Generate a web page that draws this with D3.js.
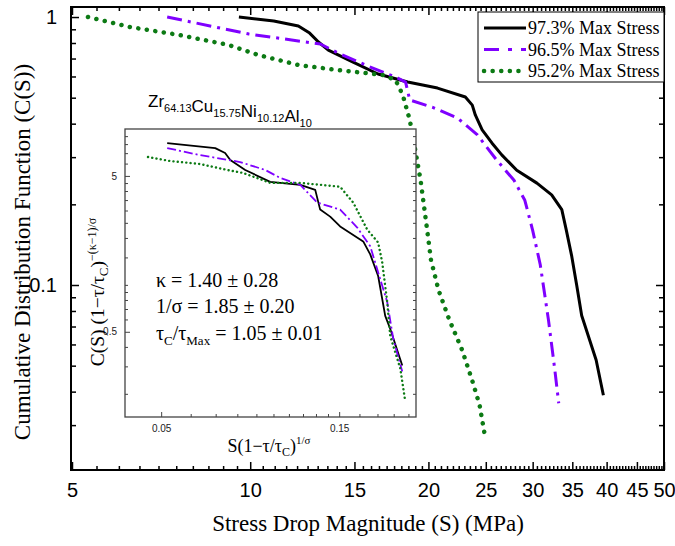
<!DOCTYPE html>
<html><head><meta charset="utf-8">
<script src="https://cdn.jsdelivr.net/npm/d3@7"></script>
<style>body{margin:0;background:#fff} svg{display:block}</style>
</head><body>
<svg id="c" width="675" height="546"></svg>
<script>
// ---------- data ----------
const seriesLabels = ["97.3% Max Stress", "96.5% Max Stress", "95.2% Max Stress"];
const seriesColors = ["#000000", "#7f00ff", "#0c7a14"];

// main plot: stress drop S (MPa) vs C(S)
const s973 = [9.57, 10.96, 12.06, 12.6, 13.04, 13.55, 14.92, 16.44, 18.45, 20.72, 23.09, 23.72, 24.0, 24.65, 25.6, 26.6, 28.2, 30.5, 32.3, 33.6, 34.2, 34.9, 35.6, 36.3, 38.4, 39.5];
const c973 = [1.0, 0.966, 0.926, 0.871, 0.807, 0.753, 0.679, 0.613, 0.572, 0.543, 0.503, 0.469, 0.431, 0.379, 0.339, 0.306, 0.268, 0.240, 0.217, 0.191, 0.160, 0.129, 0.100, 0.077, 0.0525, 0.0388];
const s965 = [7.24, 9.95, 13.14, 14.08, 15.81, 17.75, 18.3, 18.6, 20.3, 22.4, 24.2, 26.1, 27.9, 29.1, 30.0, 30.9, 31.9, 32.7, 33.2];
const c965 = [1.0, 0.864, 0.793, 0.734, 0.656, 0.592, 0.572, 0.490, 0.461, 0.420, 0.363, 0.292, 0.246, 0.207, 0.160, 0.119, 0.0741, 0.0482, 0.0362];
const s952 = [5.32, 6.26, 7.59, 9.21, 10.34, 12.07, 14.08, 16.75, 17.6, 18.1, 18.6, 19.0, 19.4, 19.8, 20.2, 20.8, 21.7, 22.8, 23.7, 24.4, 24.85];
const c952 = [1.0, 0.918, 0.857, 0.786, 0.721, 0.662, 0.634, 0.608, 0.582, 0.512, 0.413, 0.319, 0.246, 0.175, 0.124, 0.0958, 0.074, 0.0572, 0.0442, 0.0357, 0.0283];

// inset: scaled S vs scaled C
const is973 = [0.0519, 0.0698, 0.0742, 0.0766, 0.0840, 0.0980, 0.1180, 0.1294, 0.1334, 0.1419, 0.1509, 0.1740, 0.1817, 0.1908, 0.1993, 0.2055, 0.2214];
const ic973 = [8.11, 7.54, 7.01, 6.32, 5.46, 4.58, 4.38, 4.07, 3.04, 2.74, 2.37, 1.90, 1.57, 1.14, 0.632, 0.523, 0.304];
const is965 = [0.0519, 0.0636, 0.0814, 0.0950, 0.1042, 0.1180, 0.131, 0.1509, 0.1677, 0.1817, 0.1932, 0.2018, 0.2094, 0.2214];
const ic965 = [7.54, 6.80, 6.14, 5.46, 4.86, 4.38, 3.37, 3.04, 2.33, 1.77, 1.09, 0.776, 0.451, 0.278];
const is952 = [0.0461, 0.0528, 0.0636, 0.0752, 0.0830, 0.0980, 0.1180, 0.1509, 0.1636, 0.1784, 0.1908, 0.1956, 0.2018, 0.2055, 0.2187, 0.2255];
const ic952 = [6.61, 6.23, 5.96, 5.46, 5.22, 4.51, 4.51, 4.26, 3.37, 2.26, 1.87, 1.40, 0.776, 0.471, 0.291, 0.179];

// tick values
const xMajor = [5, 10, 15, 20, 25, 30, 35, 40, 45, 50];
const xMinor = d3.range(5.5, 50, 0.5).filter(v => v % 5 !== 0);
const yMajor = [0.1, 1];
const yMinor = [0.03, 0.04, 0.05, 0.06, 0.07, 0.08, 0.09, 0.2, 0.3, 0.4, 0.5, 0.6, 0.7, 0.8, 0.9];
const ixMajor = [0.05, 0.15];
const ixMinor = [0.06, 0.07, 0.08, 0.09, 0.1, 0.11, 0.12, 0.13, 0.14, 0.17, 0.19, 0.21, 0.23];
const iyMajor = [0.5, 5];
const iyMinor = [0.2, 0.3, 0.4, 0.6, 0.7, 0.8, 0.9, 1, 1.5, 2, 2.5, 3, 3.5, 4, 4.5, 6, 7, 8, 9];

// ---------- layout ----------
const svg = d3.select("#c");
const SERIF = "'Liberation Serif','Times New Roman',serif";
const SANS = "'Liberation Sans',Arial,sans-serif";
const L = 71, R = 664, T = 7, B = 470;
const x = d3.scaleLog().domain([5, 50]).range([L + 1, R]);
const y = d3.scaleLog().domain([0.0204, 1.09]).range([B, T]);

const mainSeries = [[s973, c973], [s965, c965], [s952, c952]];
const styles = [
  {w: 3, dash: null, cap: "butt"},
  {w: 3, dash: "15 6 3 6", cap: "butt"},
  {w: 4.5, dash: "0.1 8.5", cap: "round"}
];

const line = d3.line().x(d => x(d[0])).y(d => y(d[1]));
mainSeries.forEach((s, i) => {
  const pts = s[0].map((v, k) => [v, s[1][k]]);
  svg.append("path").attr("d", line(pts)).attr("fill", "none")
    .attr("stroke", seriesColors[i]).attr("stroke-width", styles[i].w)
    .attr("stroke-dasharray", styles[i].dash).attr("stroke-linecap", styles[i].cap)
    .attr("stroke-linejoin", "round");
});

// axes (ticks inward)
function styleAxis(g, fs) {
  g.select(".domain").remove();
  g.selectAll("line").attr("stroke", "#000").attr("stroke-width", 1.5);
  g.selectAll("text").attr("font-family", SANS).attr("font-size", fs).attr("fill", "#000");
}
svg.append("g").attr("transform", `translate(0,${B})`)
  .call(d3.axisBottom(x).tickValues(xMajor).tickSize(-8).tickPadding(13).tickFormat(d3.format("d")))
  .call(g => styleAxis(g, 20));
svg.append("g").attr("transform", `translate(0,${B})`)
  .call(d3.axisBottom(x).tickValues(xMinor).tickSize(-4).tickFormat(""))
  .call(g => styleAxis(g, 0));
svg.append("g").attr("transform", `translate(0,${T})`)
  .call(d3.axisTop(x).tickValues(xMajor).tickSize(-8).tickFormat(""))
  .call(g => styleAxis(g, 0));
svg.append("g").attr("transform", `translate(0,${T})`)
  .call(d3.axisTop(x).tickValues(xMinor).tickSize(-4).tickFormat(""))
  .call(g => styleAxis(g, 0));
svg.append("g").attr("transform", `translate(${L},0)`)
  .call(d3.axisLeft(y).tickValues(yMajor).tickSize(-8).tickPadding(14).tickFormat(d => d === 1 ? "1" : "0.1"))
  .call(g => styleAxis(g, 20));
svg.append("g").attr("transform", `translate(${L},0)`)
  .call(d3.axisLeft(y).tickValues(yMinor).tickSize(-5).tickFormat(""))
  .call(g => styleAxis(g, 0));
svg.append("g").attr("transform", `translate(${R},0)`)
  .call(d3.axisRight(y).tickValues(yMajor).tickSize(-8).tickFormat(""))
  .call(g => styleAxis(g, 0));
svg.append("g").attr("transform", `translate(${R},0)`)
  .call(d3.axisRight(y).tickValues(yMinor).tickSize(-5).tickFormat(""))
  .call(g => styleAxis(g, 0));
svg.append("rect").attr("x", L).attr("y", T).attr("width", R - L).attr("height", B - T)
  .attr("fill", "none").attr("stroke", "#000").attr("stroke-width", 2);

// axis titles
svg.append("text").attr("x", 368).attr("y", 531).attr("text-anchor", "middle")
  .attr("font-family", SERIF).attr("font-size", 23).text("Stress Drop Magnitude (S) (MPa)");
svg.append("text").attr("transform", "translate(30,252) rotate(-90)").attr("text-anchor", "middle")
  .attr("font-family", SERIF).attr("font-size", 23).text("Cumulative Distribution Function (C(S))");

// composition label
const comp = svg.append("text").attr("x", 148).attr("y", 107).attr("font-family", SANS).attr("font-size", 17);
[["Zr", "64.13"], ["Cu", "15.75"], ["Ni", "10.12"], ["Al", "10"]].forEach(([el, sub]) => {
  comp.append("tspan").text(el);
  comp.append("tspan").attr("font-size", 11).attr("dy", 5).text(sub);
  comp.append("tspan").attr("dy", -5).text("");
});

// legend
const lg = {x: 478, y: 12, w: 186, h: 70};
svg.append("rect").attr("x", lg.x).attr("y", lg.y).attr("width", lg.w).attr("height", lg.h)
  .attr("fill", "#fff").attr("stroke", "#000").attr("stroke-width", 1);
seriesLabels.forEach((lab, i) => {
  const yy = lg.y + 16 + i * 21.5;
  svg.append("line").attr("x1", lg.x + 6).attr("x2", lg.x + 48).attr("y1", yy).attr("y2", yy)
    .attr("stroke", seriesColors[i]).attr("stroke-width", styles[i].w)
    .attr("stroke-dasharray", i === 1 ? "15 9 4 9" : styles[i].dash).attr("stroke-linecap", styles[i].cap);
  svg.append("text").attr("x", lg.x + 50).attr("y", yy + 6).attr("font-family", SERIF)
    .attr("font-size", 18).text(lab);
});

// ---------- inset ----------
const IL = 125, IR = 416, IT = 129, IB = 417;
const ix = d3.scaleLog().domain([0.04, 0.241]).range([IL, IR]);
const iy = d3.scaleLog().domain([0.142, 10]).range([IB, IT]);
svg.append("rect").attr("x", IL).attr("y", IT).attr("width", IR - IL).attr("height", IB - IT)
  .attr("fill", "#fff").attr("stroke", "none");
const iline = d3.line().x(d => ix(d[0])).y(d => iy(d[1]));
const insetSeries = [[is973, ic973], [is965, ic965], [is952, ic952]];
const istyles = [
  {w: 1.8, dash: null, cap: "butt"},
  {w: 1.8, dash: "9 3 2 3", cap: "butt"},
  {w: 2.4, dash: "0.1 4.2", cap: "round"}
];
insetSeries.forEach((s, i) => {
  const pts = s[0].map((v, k) => [v, s[1][k]]);
  svg.append("path").attr("d", iline(pts)).attr("fill", "none")
    .attr("stroke", seriesColors[i]).attr("stroke-width", istyles[i].w)
    .attr("stroke-dasharray", istyles[i].dash).attr("stroke-linecap", istyles[i].cap)
    .attr("stroke-linejoin", "round");
});
function styleInset(g, fs) {
  g.select(".domain").remove();
  g.selectAll("line").attr("stroke", "#444").attr("stroke-width", 1);
  g.selectAll("text").attr("font-family", SANS).attr("font-size", fs).attr("fill", "#222");
}
svg.append("g").attr("transform", `translate(0,${IB})`)
  .call(d3.axisBottom(ix).tickValues(ixMajor).tickSize(-5).tickPadding(8).tickFormat(d => d === 0.05 ? "0.05" : "0.15"))
  .call(g => styleInset(g, 10));
svg.append("g").attr("transform", `translate(0,${IB})`)
  .call(d3.axisBottom(ix).tickValues(ixMinor).tickSize(-3).tickFormat(""))
  .call(g => styleInset(g, 0));
svg.append("g").attr("transform", `translate(${IL},0)`)
  .call(d3.axisLeft(iy).tickValues(iyMajor).tickSize(-5).tickPadding(8).tickFormat(d => d === 5 ? "5" : "0.5"))
  .call(g => styleInset(g, 10));
svg.append("g").attr("transform", `translate(${IL},0)`)
  .call(d3.axisLeft(iy).tickValues(iyMinor).tickSize(-3).tickFormat(""))
  .call(g => styleInset(g, 0));
svg.append("g").attr("transform", `translate(${IR},0)`)
  .call(d3.axisRight(iy).tickValues(iyMajor).tickSize(-5).tickFormat(""))
  .call(g => styleInset(g, 0));
svg.append("g").attr("transform", `translate(${IR},0)`)
  .call(d3.axisRight(iy).tickValues(iyMinor).tickSize(-3).tickFormat(""))
  .call(g => styleInset(g, 0));
svg.append("rect").attr("x", IL).attr("y", IT).attr("width", IR - IL).attr("height", IB - IT)
  .attr("fill", "none").attr("stroke", "#444").attr("stroke-width", 1.3);

// inset axis titles
const ixt = svg.append("text").attr("x", 269).attr("y", 452).attr("text-anchor", "middle")
  .attr("font-family", SERIF).attr("font-size", 18);
ixt.append("tspan").text("S(1\u2212\u03c4/\u03c4");
ixt.append("tspan").attr("font-size", 12).attr("dy", 4).text("C");
ixt.append("tspan").attr("dy", -4).text(")");
ixt.append("tspan").attr("font-size", 11).attr("dy", -8).text("1/\u03c3");

const iyt = svg.append("text").attr("transform", "translate(104,292) rotate(-90)").attr("text-anchor", "middle")
  .attr("font-family", SERIF).attr("font-size", 19.5);
iyt.append("tspan").text("C(S) (1\u2212\u03c4/\u03c4");
iyt.append("tspan").attr("font-size", 13).attr("dy", 4).text("C");
iyt.append("tspan").attr("dy", -4).text(")");
iyt.append("tspan").attr("font-size", 12).attr("dy", -8).text("\u2212(\u03ba\u22121)/\u03c3");

// fit parameters
svg.append("text").attr("x", 156).attr("y", 287).attr("font-family", SERIF).attr("font-size", 20)
  .text("\u03ba = 1.40 \u00b1 0.28");
svg.append("text").attr("x", 156).attr("y", 313).attr("font-family", SERIF).attr("font-size", 20)
  .text("1/\u03c3 = 1.85 \u00b1 0.20");
const t3 = svg.append("text").attr("x", 156).attr("y", 340).attr("font-family", SERIF).attr("font-size", 20);
t3.append("tspan").text("\u03c4");
t3.append("tspan").attr("font-size", 13).attr("dy", 5).text("C");
t3.append("tspan").attr("dy", -5).text("/\u03c4");
t3.append("tspan").attr("font-size", 13).attr("dy", 5).text("Max");
t3.append("tspan").attr("dy", -5).text(" = 1.05 \u00b1 0.01");
</script>
</body></html>
